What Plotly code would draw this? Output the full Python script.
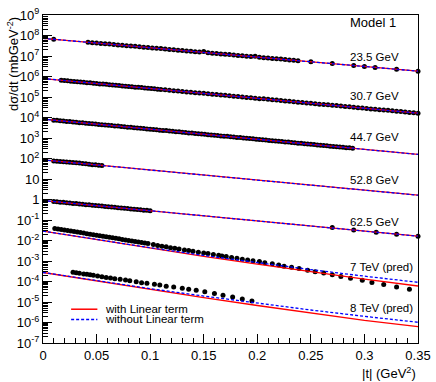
"""
Elastic pp differential cross section - Model 1
===============================================
ISR data (23.5 - 62.5 GeV) plus the 7 and 8 TeV predictions, each energy
shifted by a power of 100 so the sets stack on one log axis.
"""

import numpy as np
import plotly.graph_objects as go

# ---------------------------------------------------------------------------
# Data: |t| in GeV^2, log10(dsigma/dt) (already scaled)
# ---------------------------------------------------------------------------
t_235 = [0.010,
         0.042, 0.046, 0.050, 0.054, 0.058, 0.062, 0.066, 0.070, 0.074, 0.078,
         0.082, 0.086, 0.090, 0.094, 0.098, 0.102, 0.106, 0.110, 0.114, 0.118,
         0.122, 0.126, 0.130, 0.134, 0.138, 0.142, 0.146, 0.150, 0.154, 0.158,
         0.162, 0.166, 0.170, 0.174, 0.178, 0.182, 0.186, 0.190, 0.194, 0.198,
         0.202, 0.206, 0.210, 0.214, 0.218, 0.222, 0.226, 0.230, 0.234, 0.238,
         0.250, 0.270, 0.290, 0.300, 0.310, 0.330, 0.350]
lg_235 = [7.82,
          7.67, 7.65, 7.63, 7.61, 7.60, 7.58, 7.56, 7.54, 7.52, 7.50,
          7.49, 7.47, 7.45, 7.43, 7.41, 7.39, 7.38, 7.36, 7.34, 7.32,
          7.30, 7.28, 7.27, 7.25, 7.23, 7.21, 7.19, 7.22, 7.16, 7.14,
          7.12, 7.10, 7.08, 7.07, 7.05, 7.03, 7.01, 6.99, 6.97, 6.99,
          6.94, 6.92, 6.90, 6.88, 6.86, 6.85, 6.83, 6.81, 6.79, 6.77,
          6.72, 6.63, 6.54, 6.49, 6.44, 6.35, 6.26]

t_307 = [0.017, 0.020, 0.023, 0.026, 0.029, 0.032, 0.035, 0.038, 0.041, 0.044,
         0.047, 0.050, 0.053, 0.056, 0.059, 0.062, 0.065, 0.068, 0.071, 0.074,
         0.077, 0.080, 0.083, 0.086, 0.089, 0.092, 0.095, 0.098, 0.101, 0.104,
         0.107, 0.110,
         0.114, 0.118, 0.122, 0.126, 0.130, 0.134, 0.138, 0.142, 0.146, 0.150,
         0.154, 0.158, 0.162, 0.166, 0.170, 0.174, 0.178, 0.182, 0.186, 0.190,
         0.194, 0.198, 0.202, 0.206, 0.210, 0.214, 0.218, 0.222, 0.226, 0.230,
         0.234, 0.238, 0.242, 0.246, 0.250, 0.254, 0.258, 0.262, 0.266, 0.270,
         0.274, 0.278, 0.282, 0.286, 0.290, 0.294, 0.298, 0.302, 0.306, 0.310,
         0.314, 0.318, 0.322, 0.326, 0.330, 0.334, 0.338, 0.342, 0.346, 0.350]
lg_307 = [5.82, 5.80, 5.79, 5.77, 5.76, 5.75, 5.73, 5.72, 5.70, 5.69,
          5.67, 5.66, 5.64, 5.63, 5.62, 5.60, 5.59, 5.57, 5.56, 5.54,
          5.53, 5.51, 5.50, 5.48, 5.47, 5.46, 5.44, 5.43, 5.41, 5.40,
          5.38, 5.37,
          5.35, 5.33, 5.31, 5.29, 5.27, 5.25, 5.23, 5.21, 5.19, 5.18,
          5.16, 5.14, 5.12, 5.10, 5.08, 5.06, 5.04, 5.02, 5.00, 4.98,
          4.96, 4.94, 4.92, 4.91, 4.89, 4.87, 4.85, 4.83, 4.81, 4.79,
          4.77, 4.75, 4.73, 4.71, 4.69, 4.67, 4.65, 4.64, 4.62, 4.60,
          4.58, 4.56, 4.54, 4.52, 4.50, 4.48, 4.46, 4.44, 4.42, 4.40,
          4.38, 4.36, 4.35, 4.33, 4.31, 4.29, 4.27, 4.25, 4.23, 4.21]

t_447 = [0.010, 0.013, 0.016, 0.019, 0.022, 0.025, 0.028, 0.031, 0.034, 0.037,
         0.040, 0.043, 0.046, 0.049, 0.052, 0.055, 0.058, 0.061, 0.064, 0.067,
         0.070, 0.073, 0.076, 0.079, 0.082, 0.085, 0.088, 0.091, 0.094, 0.097,
         0.100, 0.103, 0.106, 0.109, 0.112, 0.115, 0.118, 0.121, 0.124, 0.127,
         0.130, 0.133, 0.136, 0.139, 0.142, 0.145, 0.148, 0.151, 0.154, 0.157,
         0.160, 0.163, 0.166, 0.169, 0.172, 0.175, 0.178, 0.181, 0.184, 0.187,
         0.190, 0.193, 0.196, 0.199, 0.202, 0.205, 0.208, 0.211, 0.214, 0.217,
         0.220, 0.223, 0.226, 0.229, 0.232, 0.235, 0.238, 0.241, 0.244, 0.247,
         0.250, 0.253, 0.256, 0.259, 0.262, 0.265, 0.268, 0.271, 0.274, 0.277,
         0.280, 0.283, 0.286, 0.289]
lg_447 = [3.87, 3.86, 3.84, 3.83, 3.81, 3.80, 3.78, 3.77, 3.75, 3.74,
          3.72, 3.71, 3.69, 3.68, 3.66, 3.65, 3.64, 3.62, 3.61, 3.59,
          3.58, 3.56, 3.55, 3.53, 3.52, 3.50, 3.49, 3.47, 3.46, 3.44,
          3.43, 3.41, 3.40, 3.38, 3.37, 3.36, 3.34, 3.33, 3.31, 3.30,
          3.28, 3.27, 3.25, 3.24, 3.22, 3.21, 3.19, 3.18, 3.16, 3.15,
          3.13, 3.12, 3.10, 3.09, 3.08, 3.06, 3.05, 3.03, 3.02, 3.00,
          2.99, 2.97, 2.96, 2.94, 2.93, 2.91, 2.90, 2.88, 2.87, 2.85,
          2.84, 2.83, 2.81, 2.80, 2.78, 2.77, 2.75, 2.74, 2.72, 2.71,
          2.69, 2.68, 2.66, 2.65, 2.63, 2.62, 2.60, 2.59, 2.57, 2.56,
          2.55, 2.53, 2.52, 2.50]

t_528 = [0.010, 0.013, 0.016, 0.019, 0.022, 0.025, 0.028, 0.031, 0.034, 0.037,
         0.040, 0.043, 0.046, 0.049, 0.052, 0.055]
lg_528 = [1.88, 1.87, 1.85, 1.84, 1.83, 1.82, 1.81, 1.79, 1.78, 1.76,
          1.74, 1.72, 1.70, 1.69, 1.67, 1.66]

t_625 = [0.010, 0.013, 0.016, 0.019, 0.022, 0.025, 0.028, 0.031, 0.034, 0.037,
         0.040, 0.043, 0.046, 0.049, 0.052, 0.055, 0.058, 0.061, 0.064, 0.067,
         0.070, 0.073, 0.076, 0.079, 0.082, 0.085, 0.088, 0.091, 0.094, 0.097,
         0.100,
         0.270, 0.290, 0.311, 0.330, 0.350]
lg_625 = [-0.10, -0.11, -0.13, -0.14, -0.16, -0.17, -0.19, -0.20, -0.22, -0.23,
          -0.25, -0.26, -0.28, -0.29, -0.31, -0.32, -0.34, -0.35, -0.37, -0.38,
          -0.40, -0.41, -0.43, -0.44, -0.46, -0.47, -0.49, -0.50, -0.52, -0.53,
          -0.55,
          -1.37, -1.49, -1.60, -1.69, -1.79]

t_7tev = [0.011, 0.014, 0.017, 0.020, 0.023, 0.026, 0.029, 0.032, 0.035, 0.038,
          0.041, 0.044, 0.047, 0.050, 0.053, 0.056, 0.059, 0.062, 0.065, 0.068,
          0.071, 0.074, 0.077, 0.080, 0.083, 0.086, 0.089, 0.092, 0.095, 0.098,
          0.103, 0.107, 0.111, 0.115, 0.119, 0.123, 0.127, 0.132, 0.136, 0.140,
          0.145, 0.150, 0.154, 0.159, 0.164, 0.167, 0.171, 0.176, 0.181, 0.186,
          0.191, 0.196, 0.202, 0.207, 0.214, 0.220, 0.225, 0.232, 0.239, 0.247,
          0.254, 0.262, 0.270, 0.278, 0.287, 0.298, 0.307, 0.318, 0.330, 0.342]
lg_7tev = [-1.41, -1.44, -1.46, -1.49, -1.51, -1.54, -1.56, -1.59, -1.61, -1.64,
           -1.67, -1.69, -1.72, -1.74, -1.77, -1.79, -1.82, -1.84, -1.87, -1.89,
           -1.92, -1.95, -1.97, -2.00, -2.02, -2.05, -2.07, -2.10, -2.12, -2.15,
           -2.20, -2.24, -2.28, -2.31, -2.35, -2.38, -2.42, -2.46, -2.49, -2.53,
           -2.57, -2.61, -2.64, -2.68, -2.72, -2.75, -2.78, -2.83, -2.87, -2.91,
           -2.95, -2.99, -3.03, -3.08, -3.14, -3.20, -3.25, -3.31, -3.37, -3.45,
           -3.52, -3.59, -3.67, -3.75, -3.84, -3.94, -4.05, -4.15, -4.27, -4.38]

t_8tev = [0.028, 0.031, 0.034, 0.038, 0.041, 0.044, 0.047, 0.051, 0.055, 0.059,
          0.063, 0.067, 0.072, 0.077, 0.081, 0.087, 0.092, 0.097, 0.104, 0.109,
          0.115, 0.122, 0.130, 0.136, 0.143, 0.151, 0.160, 0.168, 0.177, 0.186,
          0.195]
lg_8tev = [-3.55, -3.57, -3.60, -3.63, -3.65, -3.67, -3.70, -3.73, -3.77, -3.80,
           -3.83, -3.86, -3.89, -3.93, -3.96, -4.01, -4.06, -4.09, -4.14, -4.17,
           -4.23, -4.27, -4.33, -4.38, -4.43, -4.50, -4.58, -4.67, -4.76, -4.85,
           -4.95]

# Model 1 curves (log10), with and without the linear term
t_fit_isr = [0.0, 0.35]
fit_235 = [7.86, 6.26]
fit_307 = [5.90, 4.21]
fit_447 = [3.92, 2.20]
fit_528 = [1.93, 0.21]
fit_625 = [-0.05, -1.79]

t_fit_lhc = [0.0, 0.05, 0.10, 0.15, 0.20, 0.25, 0.30, 0.35]
fit_7tev_lin = [-1.54, -1.96, -2.37, -2.77, -3.15, -3.52, -3.88, -4.22]
fit_7tev_nolin = [-1.54, -1.96, -2.35, -2.73, -3.09, -3.42, -3.74, -4.04]
fit_8tev_lin = [-3.56, -3.98, -4.39, -4.79, -5.17, -5.54, -5.90, -6.20]
fit_8tev_nolin = [-3.56, -3.96, -4.35, -4.71, -5.06, -5.39, -5.70, -5.99]

energy_labels = ["23.5 GeV", "30.7 GeV", "44.7 GeV", "52.8 GeV",
                 "62.5 GeV", "7 TeV (pred)", "8 TeV (pred)"]
label_y = [0.871, 0.753, 0.629, 0.497, 0.370, 0.231, 0.106]

y_tickvals = [1e9, 1e8, 1e7, 1e6, 1e5, 1e4, 1e3, 1e2, 1e1, 1e0,
              1e-1, 1e-2, 1e-3, 1e-4, 1e-5, 1e-6, 1e-7]
y_ticktext = ["10<sup>9</sup>", "10<sup>8</sup>", "10<sup>7</sup>",
              "10<sup>6</sup>", "10<sup>5</sup>", "10<sup>4</sup>",
              "10<sup>3</sup>", "10<sup>2</sup>", "10", "1",
              "10<sup>-1</sup>", "10<sup>-2</sup>", "10<sup>-3</sup>",
              "10<sup>-4</sup>", "10<sup>-5</sup>", "10<sup>-6</sup>",
              "10<sup>-7</sup>"]

FONT = "Liberation Sans, Arial, Helvetica, sans-serif"
RED = "#ff0000"
BLUE = "#0000ff"
BLUE_DASH = "3px,2px"


def pw(vals):
    """log10 values -> cross section."""
    return np.power(10.0, np.asarray(vals, dtype=float))


def add_points(fig, t, lg):
    fig.add_trace(go.Scatter(
        x=t, y=pw(lg), mode="markers",
        marker=dict(color="black", size=5, line=dict(width=0)),
        cliponaxis=False, showlegend=False, hoverinfo="x+y"
    ))


def add_curves(fig, t, lin, nolin):
    fig.add_trace(go.Scatter(
        x=t, y=pw(lin), mode="lines",
        line=dict(color=RED, width=1.3), showlegend=False
    ))
    fig.add_trace(go.Scatter(
        x=t, y=pw(nolin), mode="lines",
        line=dict(color=BLUE, width=1.3, dash=BLUE_DASH), showlegend=False
    ))


def build_figure() -> go.Figure:
    fig = go.Figure()

    isr = [(t_235, lg_235, fit_235), (t_307, lg_307, fit_307),
           (t_447, lg_447, fit_447), (t_528, lg_528, fit_528),
           (t_625, lg_625, fit_625)]
    for t, lg, fit in isr:
        add_points(fig, t, lg)
        add_curves(fig, t_fit_isr, fit, fit)

    add_points(fig, t_7tev, lg_7tev)
    add_curves(fig, t_fit_lhc, fit_7tev_lin, fit_7tev_nolin)
    add_points(fig, t_8tev, lg_8tev)
    add_curves(fig, t_fit_lhc, fit_8tev_lin, fit_8tev_nolin)

    # energy labels on the right
    fig.add_annotation(text="Model 1", xref="paper", yref="paper",
                       x=0.813, y=0.976, xanchor="left", yanchor="middle",
                       showarrow=False, font=dict(size=13, color="black"))
    for txt, yy in zip(energy_labels, label_y):
        fig.add_annotation(text=txt, xref="paper", yref="paper",
                           x=0.813, y=yy, xanchor="left", yanchor="middle",
                           showarrow=False, font=dict(size=11.5, color="black"))

    # hand-made legend (ROOT style, no box)
    legend = [("with Linear term", RED, "solid", 0.103),
              ("without Linear term", BLUE, BLUE_DASH, 0.072)]
    for txt, col, dash, yy in legend:
        fig.add_shape(type="line", xref="paper", yref="paper",
                      x0=0.075, x1=0.145, y0=yy, y1=yy,
                      line=dict(color=col, width=1.5, dash=dash))
        fig.add_annotation(text=txt, xref="paper", yref="paper",
                           x=0.16, y=yy, xanchor="left", yanchor="middle",
                           showarrow=False, font=dict(size=11.5, color="black"))

    # axis titles, ROOT puts them at the far end of the axis
    fig.add_annotation(text="d\u03c3/dt (mbGeV<sup>-2</sup>)",
                       xref="paper", yref="paper", x=-0.08, y=1.0,
                       xanchor="center", yanchor="top", textangle=-90,
                       showarrow=False, font=dict(size=13, color="black"))
    fig.add_annotation(text="|t| (GeV<sup>2</sup>)",
                       xref="paper", yref="paper", x=1.0, y=-0.091,
                       xanchor="right", yanchor="middle",
                       showarrow=False, font=dict(size=13, color="black"))

    fig.update_layout(
        width=436, height=382,
        margin=dict(l=43, r=18, t=15, b=39),
        paper_bgcolor="white", plot_bgcolor="white",
        font=dict(family=FONT, size=13, color="black"),
        showlegend=False,
        xaxis=dict(
            range=[0, 0.35], dtick=0.05, tick0=0,
            showgrid=False, zeroline=False,
            showline=True, linecolor="black", linewidth=1, mirror=True,
            ticks="inside", ticklen=9, tickcolor="black",
            minor=dict(ticks="inside", ticklen=5, dtick=0.01,
                       tickcolor="black", showgrid=False),
            tickfont=dict(size=13), automargin=False,
        ),
        yaxis=dict(
            type="log", range=[-7, 9],
            tickmode="array", tickvals=y_tickvals, ticktext=y_ticktext,
            showgrid=False, zeroline=False,
            showline=True, linecolor="black", linewidth=1, mirror=True,
            ticks="inside", ticklen=9, tickcolor="black",
            minor=dict(ticks="inside", ticklen=5, dtick="D1",
                       tickcolor="black", showgrid=False),
            tickfont=dict(size=13), automargin=False,
        ),
    )
    return fig


def main():
    fig = build_figure()
    # drop the browser's default 8px body margin so the figure fills the window
    fig.write_html(
        "out.html",
        config={"displayModeBar": False},
        post_script="document.body.style.margin = '0';",
    )


if __name__ == "__main__":
    main()
